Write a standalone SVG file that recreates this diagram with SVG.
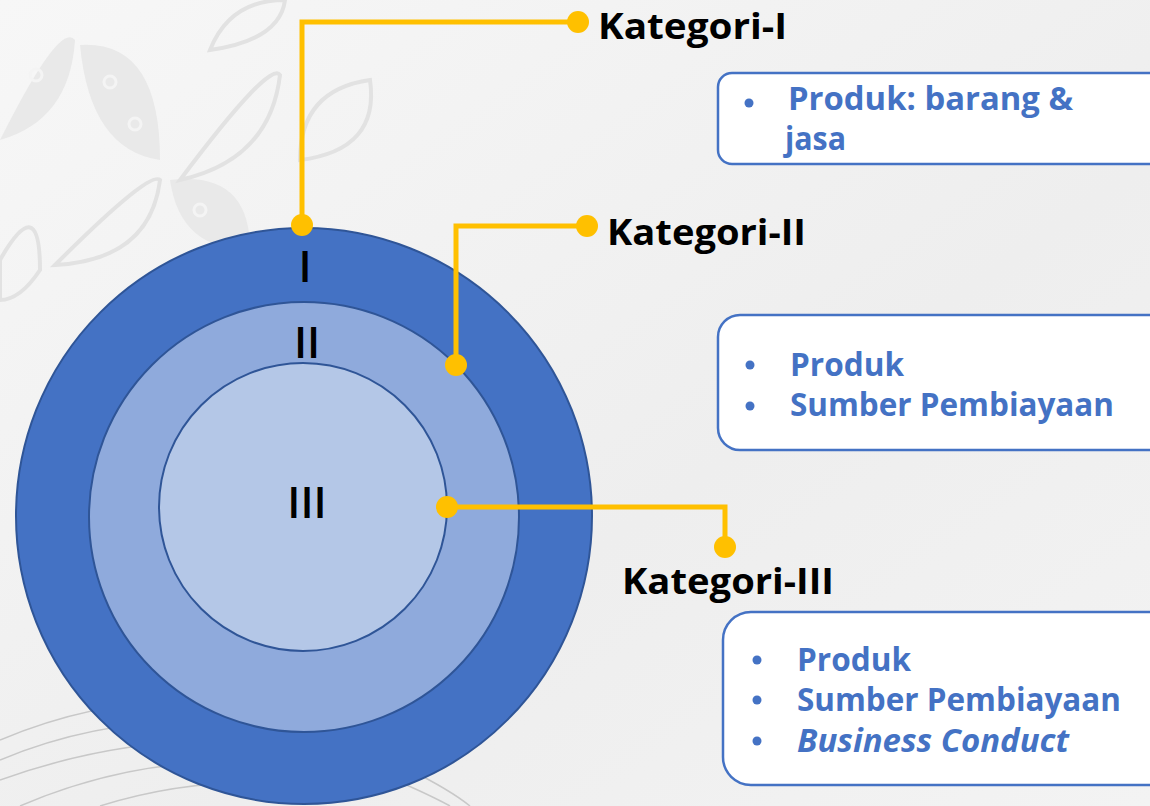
<svg xmlns="http://www.w3.org/2000/svg" width="1150" height="806" viewBox="0 0 1150 806">
<defs>
<linearGradient id="bg" x1="0" y1="0" x2="1" y2="1">
<stop offset="0" stop-color="#f7f7f7"/>
<stop offset="0.6" stop-color="#eeeeee"/>
<stop offset="1" stop-color="#f3f3f3"/>
</linearGradient>
<style>
.ring{stroke:#2F5597;stroke-width:2}
.conn{fill:none;stroke:#FFC000;stroke-width:5}
.dot{fill:#FFC000}
.kat{font-family:"Open Sans","Liberation Sans",sans-serif;font-weight:bold;font-size:36px;fill:#000}
.rom{font-family:"Open Sans","Liberation Sans",sans-serif;font-weight:600;font-size:43px;fill:#000;text-anchor:middle}
.box{fill:#fff;stroke:#4472C4;stroke-width:2.5}
.item{font-family:"Open Sans","Liberation Sans",sans-serif;font-weight:bold;font-size:32px;fill:#4472C4}
.bul{fill:#4472C4}
.leaf{fill:none;stroke:#e2e2e2;stroke-width:4}
.leaff{fill:#e9e9e9}
.hole{fill:none;stroke:#f4f4f4;stroke-width:3}
.arc{fill:none;stroke:#c8c8c8;stroke-width:1.5}
</style>
</defs>
<rect width="1150" height="806" fill="url(#bg)"/>
<g id="background-pattern">
<path class="leaff" d="M0 140 Q60 20 75 40 Q70 120 0 140Z"/>
<path class="leaff" d="M80 45 Q160 40 160 160 Q90 150 80 45Z"/>
<path class="leaff" d="M170 180 Q250 170 250 250 Q180 250 170 180Z"/>
<path class="leaf" d="M180 180 Q270 60 280 75 Q270 160 180 180Z"/>
<path class="leaf" d="M55 265 Q150 170 160 180 Q150 260 55 265Z"/>
<path class="leaf" d="M300 160 Q300 90 370 80 Q380 150 300 160Z"/>
<path class="leaf" d="M210 50 Q230 0 285 0 Q280 40 210 50Z"/>
<path class="leaf" d="M0 260 Q40 190 40 270 Q20 300 0 300Z"/>
<circle class="hole" cx="36" cy="75" r="6"/>
<circle class="hole" cx="110" cy="82" r="6"/>
<circle class="hole" cx="135" cy="124" r="6"/>
<circle class="hole" cx="200" cy="210" r="6"/>
<path class="arc" d="M0 740 Q120 690 230 705"/>
<path class="arc" d="M0 760 Q120 710 250 725"/>
<path class="arc" d="M0 780 Q140 730 270 745"/>
<path class="arc" d="M20 806 Q150 750 290 765"/>
<path class="arc" d="M100 806 Q200 775 300 785"/>
<path class="arc" d="M395 780 Q430 795 450 806"/>
<path class="arc" d="M410 770 Q450 790 470 806"/>
</g>
<g id="ring-I"><circle class="ring" cx="304" cy="516" r="288" fill="#4472C4"/></g>
<g id="ring-II"><circle class="ring" cx="304" cy="517" r="215" fill="#8FAADC"/></g>
<g id="ring-III"><circle class="ring" cx="303" cy="507" r="144" fill="#B4C7E7"/></g>
<g id="labels-rings">
<text class="rom" x="305" y="282">I</text>
<text class="rom" x="307" y="358">II</text>
<text class="rom" x="307" y="518">III</text>
</g>
<g id="connectors">
<polyline class="conn" points="302,225 302,22 578,22"/>
<polyline class="conn" points="456,365 456,226 587,226"/>
<polyline class="conn" points="447,507 725,507 725,547"/>
<circle class="dot" cx="302" cy="225" r="11"/>
<circle class="dot" cx="578" cy="22" r="11"/>
<circle class="dot" cx="456" cy="365" r="11"/>
<circle class="dot" cx="587" cy="226" r="11"/>
<circle class="dot" cx="447" cy="507" r="11"/>
<circle class="dot" cx="725" cy="547" r="11"/>
</g>
<g id="kategori-I">
<text class="kat" x="598" y="39" textLength="189" lengthAdjust="spacingAndGlyphs">Kategori-I</text>
</g>
<g id="kategori-II">
<text class="kat" x="607" y="245" textLength="199" lengthAdjust="spacingAndGlyphs">Kategori-II</text>
</g>
<g id="kategori-III">
<text class="kat" x="622" y="594" textLength="212" lengthAdjust="spacingAndGlyphs">Kategori-III</text>
</g>
<g id="box-I">
<rect class="box" x="718" y="73" width="460" height="91" rx="14"/>
<circle class="bul" cx="749" cy="103" r="4.5"/>
<text class="item" x="788" y="110" textLength="285" lengthAdjust="spacingAndGlyphs">Produk: barang &amp;</text>
<text class="item" x="785" y="150" textLength="61" lengthAdjust="spacingAndGlyphs">jasa</text>
</g>
<g id="box-II">
<rect class="box" x="718" y="315" width="460" height="135" rx="22"/>
<circle class="bul" cx="750" cy="365" r="4.5"/>
<text class="item" x="790" y="376" textLength="114" lengthAdjust="spacingAndGlyphs">Produk</text>
<circle class="bul" cx="750" cy="406" r="4.5"/>
<text class="item" x="790" y="416" textLength="324" lengthAdjust="spacingAndGlyphs">Sumber Pembiayaan</text>
</g>
<g id="box-III">
<rect class="box" x="723" y="612" width="460" height="173" rx="28"/>
<circle class="bul" cx="757" cy="660" r="4.5"/>
<text class="item" x="797" y="671" textLength="114" lengthAdjust="spacingAndGlyphs">Produk</text>
<circle class="bul" cx="757" cy="700" r="4.5"/>
<text class="item" x="797" y="711" textLength="324" lengthAdjust="spacingAndGlyphs">Sumber Pembiayaan</text>
<circle class="bul" cx="757" cy="741" r="4.5"/>
<text class="item" x="797" y="752" font-style="italic" textLength="272" lengthAdjust="spacingAndGlyphs">Business Conduct</text>
</g>
</svg>
